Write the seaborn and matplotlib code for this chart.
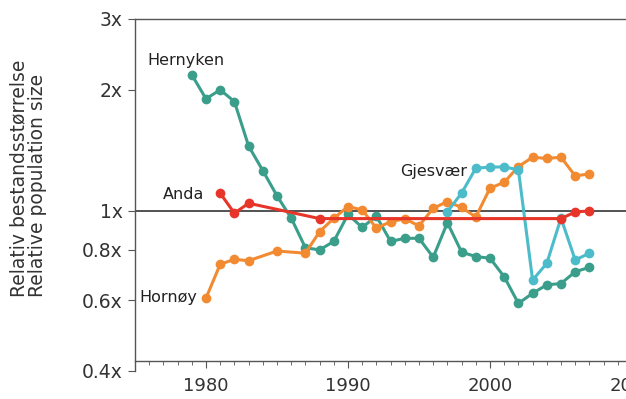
import numpy as np
import pandas as pd
import matplotlib
matplotlib.use('Agg')
import matplotlib.pyplot as plt
import seaborn as sns

# ------------------------------------------------------------
# Data
# ------------------------------------------------------------
hernyken_years = list(range(1979, 2008))
hernyken_vals = [2.18, 1.90, 2.00, 1.87, 1.45, 1.26, 1.09, 0.96, 0.81, 0.80,
                 0.84, 0.98, 0.91, 0.97, 0.84, 0.855, 0.855, 0.767, 0.935, 0.79,
                 0.77, 0.763, 0.686, 0.589, 0.624, 0.655, 0.66, 0.706, 0.724]

hornoy_years = [1980, 1981, 1982, 1983, 1985, 1987, 1988, 1989, 1990, 1991,
                1992, 1993, 1994, 1995, 1996, 1997, 1998, 1999, 2000, 2001,
                2002, 2003, 2004, 2005, 2006, 2007]
hornoy_vals = [0.607, 0.737, 0.758, 0.752, 0.795, 0.785, 0.888, 0.959, 1.025, 1.006,
               0.906, 0.94, 0.956, 0.918, 1.015, 1.055, 1.02, 0.966, 1.139, 1.178,
               1.289, 1.36, 1.35, 1.36, 1.222, 1.236]

gjesvaer_years = list(range(1997, 2008))
gjesvaer_vals = [0.996, 1.107, 1.277, 1.285, 1.287, 1.265, 0.673, 0.741, 0.96,
                 0.755, 0.785]

anda_years = [1981, 1982, 1983, 1988, 2005, 2006, 2007]
anda_vals = [1.107, 0.987, 1.045, 0.957, 0.957, 0.994, 1.0]

y_ticks = [0.4, 0.6, 0.8, 1, 2, 3]
y_ticklabels = ['0.4x', '0.6x', '0.8x', '1x', '2x', '3x']
x_ticks = [1980, 1990, 2000, 2010]

series = [
    ('Hernyken', hernyken_years, hernyken_vals, '#3a9e8b'),
    ('Hornøy', hornoy_years, hornoy_vals, '#f28a32'),
    ('Gjesvær', gjesvaer_years, gjesvaer_vals, '#4cbccb'),
    ('Anda', anda_years, anda_vals, '#e8352a'),
]

# ------------------------------------------------------------
# Plot
# ------------------------------------------------------------
sns.set_style('ticks')
plt.rcParams['font.family'] = ['DejaVu Sans']

fig = plt.figure(figsize=(6.26, 3.99), dpi=100)
ax = fig.add_axes([135 / 626, 1 - 371 / 399, 497 / 626, 352 / 399])

ax.axhline(1.0, color='#444444', lw=1.3, zorder=1)

for i, (name, yrs, vals, col) in enumerate(series):
    df = pd.DataFrame({'year': yrs, 'value': vals})
    sns.lineplot(data=df, x='year', y='value', ax=ax, color=col, lw=2.2,
                 marker='o', markersize=7, markeredgewidth=0,
                 zorder=3 + i, legend=False)

ax.set_yscale('log')
ax.set_ylim(0.4, 3)
ax.set_xlim(1975, 2010)
ax.set_yticks(y_ticks)
ax.set_yticklabels(y_ticklabels)
ax.minorticks_off()
ax.set_xticks(x_ticks)
ax.set_xticks(range(1975, 2011), minor=True)
ax.set_xlabel('')
ax.set_ylabel('')

ax.spines['right'].set_visible(False)
ax.spines['bottom'].set_position(('data', 0.424))
for s in ['left', 'bottom', 'top']:
    ax.spines[s].set_color('#555555')
    ax.spines[s].set_linewidth(1.0)

ax.tick_params(axis='y', which='major', labelsize=13.5, length=5,
               color='#555555', labelcolor='#333333', pad=4)
ax.tick_params(axis='x', which='major', labelsize=13, length=5,
               color='#555555', labelcolor='#333333', pad=7)
ax.tick_params(axis='x', which='minor', length=3, color='#555555')

# series labels
ax.text(1975.85, 2.37, 'Hernyken', fontsize=11.5, ha='left', va='center', color='#222222')
ax.text(1979.9, 1.096, 'Anda', fontsize=11.5, ha='right', va='center', color='#222222')
ax.text(1979.4, 0.608, 'Hornøy', fontsize=11.5, ha='right', va='center', color='#222222')
ax.text(1998.4, 1.25, 'Gjesvær', fontsize=11.5, ha='right', va='center', color='#222222')

fig.text(0.045, 1 - 297 / 399, 'Relativ bestandsstørrelse\nRelative population size',
         rotation=90, ha='center', va='bottom', multialignment='left',
         fontsize=13.5, color='#333333', linespacing=1.0)

fig.savefig('out.png', dpi=100)
